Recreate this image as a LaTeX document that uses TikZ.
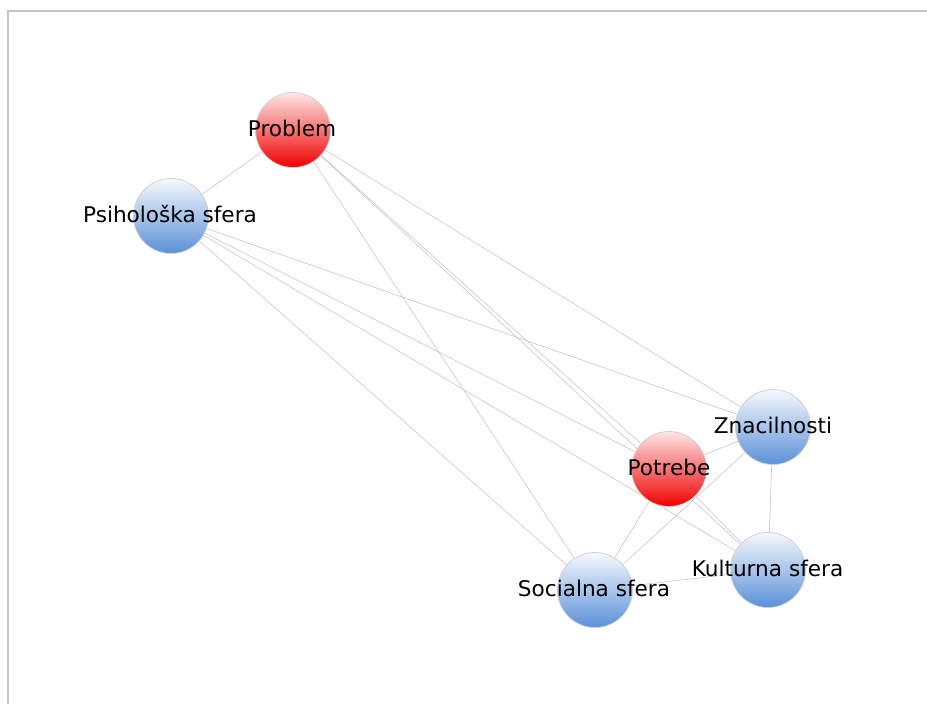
\documentclass[tikz,border=0pt]{standalone}
\usepackage{fontspec}
\setmainfont{DejaVu Sans}
\usetikzlibrary{backgrounds}
\definecolor{edgegray}{HTML}{CCCCCC}
\definecolor{framegray}{HTML}{C4C4C4}
\definecolor{rimgray}{HTML}{D0D0D0}
\definecolor{redtop}{HTML}{FFE6E6}
\definecolor{redmid}{HTML}{FF4040}
\definecolor{redbot}{HTML}{F00000}
\definecolor{bluetop}{HTML}{F6F9FD}
\definecolor{bluemid}{HTML}{B9CFEE}
\definecolor{bluebot}{HTML}{5A90D8}
\tikzset{
  vert/.style={circle, minimum size=75pt, inner sep=0pt, draw=rimgray, line width=0.8pt},
  rednode/.style={vert, top color=redtop, middle color=redmid, bottom color=redbot},
  bluenode/.style={vert, top color=bluetop, middle color=bluemid, bottom color=bluebot},
  vlabel/.style={font=\fontsize{21.6}{24}\selectfont, text=black, inner sep=0pt},
  link/.style={draw=edgegray, line width=0.7pt},
  framestyle/.style={draw=framegray, line width=2pt}
}
\begin{document}
\begin{tikzpicture}[x=1pt, y=-1pt]
\useasboundingbox (0,0) rectangle (927,704);
\draw[framestyle] (7.5,704) -- (7.5,10.5) -- (927,10.5);

\node[rednode]  (prob) at (293,130) {};
\node[bluenode] (psih) at (171,216) {};
\node[bluenode] (znac) at (773,427) {};
\node[rednode]  (potr) at (669,469) {};
\node[bluenode] (kult) at (768,570) {};
\node[bluenode] (soc)  at (595,590) {};

\node[vlabel] (probt) at (292,128) {Problem};
\node[vlabel] (psiht) at (170,214) {Psihološka sfera};
\node[vlabel] (znact) at (773,425) {Znacilnosti};
\node[vlabel] (potrt) at (669,467) {Potrebe};
\node[vlabel] (kultt) at (767.5,568) {Kulturna sfera};
\node[vlabel] (soct)  at (594,588) {Socialna sfera};

\begin{scope}[on background layer]
\draw[link] (prob) -- (psih);
\draw[link] (prob) -- (znac);
\draw[link] (prob) -- (potr);
\draw[link] (prob) -- (kult);
\draw[link] (prob) -- (soc);
\draw[link] (psih) -- (znac);
\draw[link] (psih) -- (potr);
\draw[link] (psih) -- (kult);
\draw[link] (psih) -- (soc);
\draw[link] (potr) -- (znac);
\draw[link] (potr) -- (kult);
\draw[link] (potr) -- (soc);
\draw[link] (znac) -- (kult);
\draw[link] (znac) -- (soc);
\draw[link] (soc) -- (kult);
\end{scope}
\end{tikzpicture}
\end{document}
